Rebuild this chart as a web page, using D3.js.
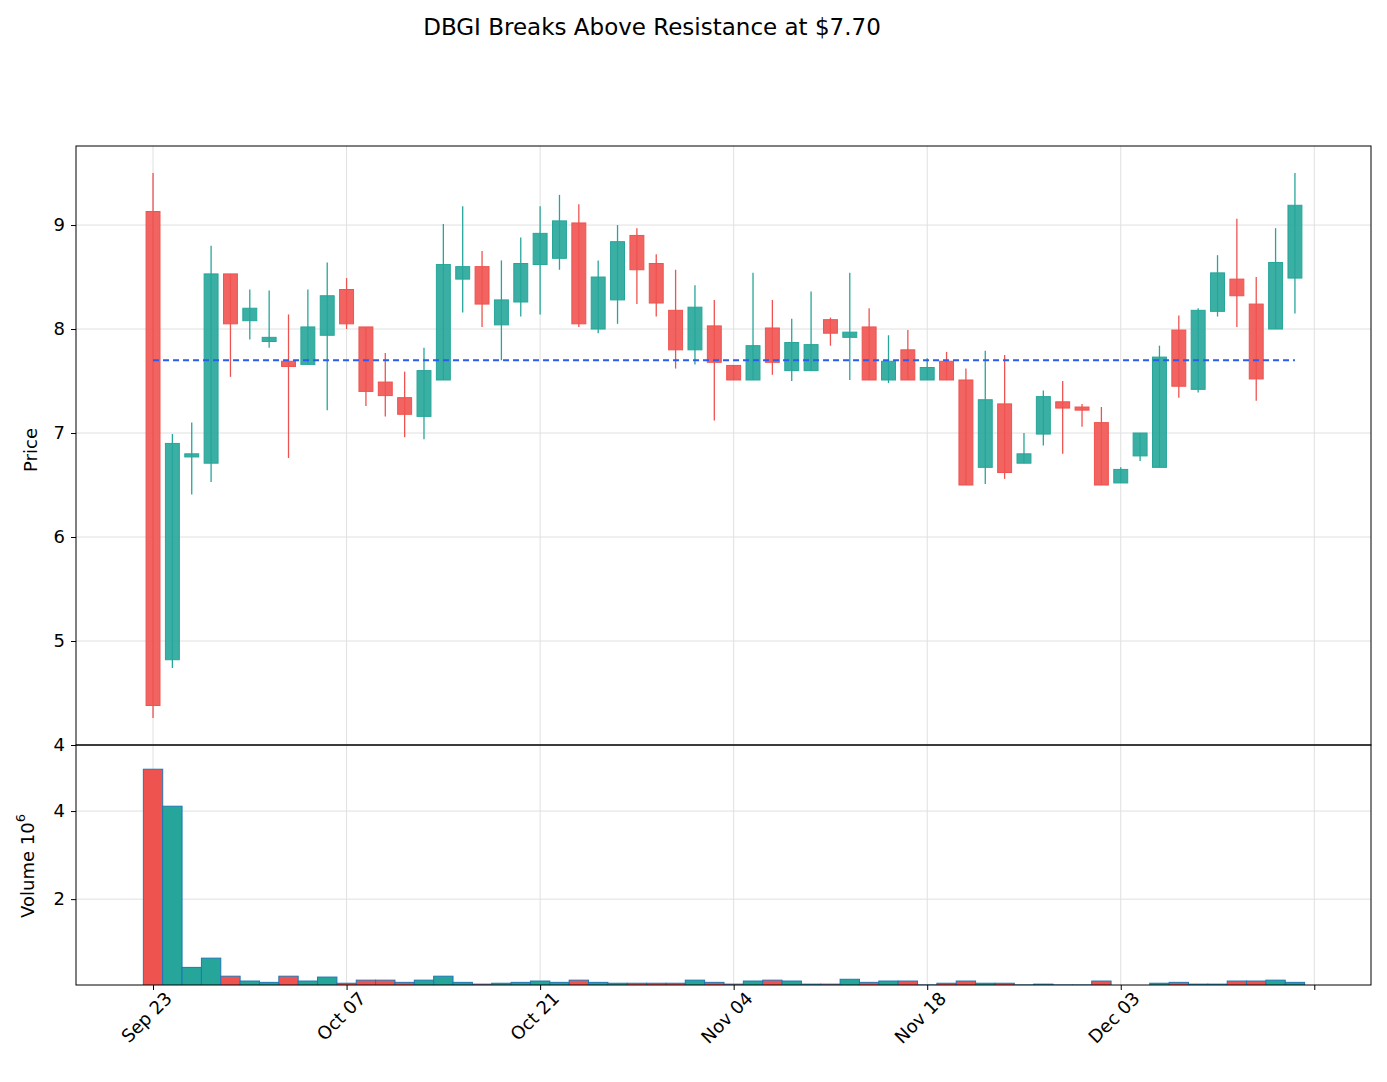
<!DOCTYPE html>
<html><head><meta charset="utf-8">
<script src="https://cdn.jsdelivr.net/npm/d3@7"></script>
<style>body{margin:0;background:#fff}svg{font-family:"DejaVu Sans",sans-serif}</style>
</head><body><svg id="c" width="1387" height="1082"></svg>
<script>
const opens =[9.13,4.82,6.77,6.71,8.53,8.08,7.88,7.69,7.66,7.94,8.38,8.02,7.49,7.34,7.16,7.51,8.48,8.60,8.04,8.26,8.62,8.68,9.02,8.00,8.28,8.90,8.63,8.18,7.80,8.03,7.65,7.51,8.01,7.60,7.60,8.09,7.92,8.02,7.51,7.80,7.51,7.69,7.51,6.67,7.28,6.71,6.99,7.30,7.25,7.10,6.52,6.78,6.67,7.99,7.42,8.17,8.48,8.24,8.00,8.49];
const closes=[4.38,6.90,6.80,8.53,8.05,8.20,7.92,7.64,8.02,8.32,8.05,7.40,7.36,7.18,7.60,8.62,8.60,8.24,8.28,8.63,8.92,9.04,8.05,8.50,8.84,8.57,8.25,7.80,8.21,7.68,7.51,7.84,7.68,7.87,7.85,7.96,7.97,7.51,7.69,7.51,7.63,7.51,6.50,7.32,6.62,6.80,7.35,7.24,7.22,6.50,6.65,7.00,7.73,7.45,8.18,8.54,8.32,7.52,8.64,9.19];
const highs =[9.50,6.99,7.10,8.80,8.53,8.38,8.37,8.14,8.38,8.64,8.49,8.02,7.77,7.59,7.82,9.01,9.18,8.75,8.66,8.88,9.18,9.29,9.20,8.66,9.00,8.97,8.72,8.57,8.42,8.28,7.65,8.54,8.28,8.10,8.36,8.11,8.54,8.20,7.94,7.99,7.72,7.78,7.62,7.79,7.75,7.00,7.41,7.50,7.28,7.25,6.67,7.00,7.84,8.13,8.20,8.71,9.06,8.50,8.97,9.50];
const lows  =[4.26,4.74,6.41,6.53,7.54,7.90,7.82,6.76,7.66,7.22,8.00,7.26,7.16,6.96,6.94,7.51,8.16,8.02,7.70,8.12,8.14,8.57,8.02,7.96,8.05,8.24,8.12,7.62,7.66,7.12,7.51,7.51,7.56,7.50,7.60,7.84,7.51,7.51,7.48,7.51,7.51,7.51,6.50,6.51,6.56,6.71,6.88,6.80,7.06,6.50,6.52,6.73,6.67,7.34,7.39,8.12,8.02,7.31,8.00,8.15];
const volumes=[4.95,4.11,0.45,0.66,0.25,0.14,0.11,0.25,0.14,0.23,0.09,0.16,0.16,0.11,0.16,0.25,0.11,0.07,0.09,0.11,0.14,0.11,0.16,0.11,0.09,0.09,0.09,0.09,0.16,0.11,0.07,0.14,0.16,0.14,0.07,0.07,0.18,0.11,0.14,0.14,0.05,0.09,0.14,0.09,0.09,0.05,0.07,0.05,0.05,0.14,0.03,0.03,0.09,0.11,0.07,0.07,0.14,0.14,0.16,0.11];
const tickIdx=[0,10,20,30,40,50,60];
const tickLabels=["Sep 23","Oct 07","Oct 21","Nov 04","Nov 18","Dec 03",""];
const resistance=7.70;
const title="DBGI Breaks Above Resistance at $7.70";

const svg=d3.select("#c");
const L=76,R=1371,PT=146,PB=745,VB=985;
const RED="#ef5350",GREEN="#26a69a";
const x=d3.scaleLinear().domain([-3.98,62.93]).range([L,R]);
const y=d3.scaleLinear().domain([4,9.76]).range([PB,PT]);
const yv=d3.scaleLinear().domain([0.05,5.5]).range([VB,PB]);
const idx=d3.range(opens.length);
const bw=x(0.72)-x(0), vw=x(1)-x(0);

svg.append("defs").append("clipPath").attr("id","vc").append("rect").attr("x",L).attr("y",PB).attr("width",R-L).attr("height",VB-PB);

const g=svg.append("g").attr("stroke","#e0e0e0").attr("stroke-width",1);
tickIdx.forEach(t=>{g.append("line").attr("x1",x(t)).attr("x2",x(t)).attr("y1",PT).attr("y2",VB);});
[4,5,6,7,8,9].forEach(v=>g.append("line").attr("x1",L).attr("x2",R).attr("y1",y(v)).attr("y2",y(v)));
[2,4].forEach(v=>g.append("line").attr("x1",L).attr("x2",R).attr("y1",yv(v)).attr("y2",yv(v)));

const col=i=>closes[i]>=opens[i]?GREEN:RED;
const c=svg.append("g");
c.selectAll("line.w").data(idx).join("line").attr("x1",i=>x(i)).attr("x2",i=>x(i))
 .attr("y1",i=>y(highs[i])).attr("y2",i=>y(lows[i])).attr("stroke",col).attr("stroke-width",1.3);
c.selectAll("rect").data(idx).join("rect").attr("x",i=>x(i)-bw/2).attr("width",bw)
 .attr("y",i=>y(Math.max(opens[i],closes[i]))).attr("height",i=>Math.max(1,Math.abs(y(opens[i])-y(closes[i]))))
 .attr("fill",col).attr("fill-opacity",0.9).attr("stroke",col).attr("stroke-width",1);

svg.append("line").attr("x1",x(0)).attr("x2",x(59)).attr("y1",y(resistance)).attr("y2",y(resistance))
 .attr("stroke","#2a5cf0").attr("stroke-width",2).attr("stroke-dasharray","6,4");

svg.append("g").attr("clip-path","url(#vc)").selectAll("rect").data(idx).join("rect")
 .attr("x",i=>x(i)-vw/2).attr("width",vw).attr("y",i=>yv(volumes[i])).attr("height",i=>VB+5-yv(volumes[i]))
 .attr("fill",col).attr("stroke","#1f77b4").attr("stroke-width",1);

svg.append("rect").attr("x",L).attr("y",PT).attr("width",R-L).attr("height",PB-PT).attr("fill","none").attr("stroke","#000");
svg.append("rect").attr("x",L).attr("y",PB).attr("width",R-L).attr("height",VB-PB).attr("fill","none").attr("stroke","#000");

const ay=svg.append("g").attr("transform",`translate(${L},0)`).call(d3.axisLeft(y).tickValues([4,5,6,7,8,9]).tickFormat(d3.format("d")).tickSize(5).tickPadding(6));
const av=svg.append("g").attr("transform",`translate(${L},0)`).call(d3.axisLeft(yv).tickValues([2,4]).tickFormat(d3.format("d")).tickSize(5).tickPadding(6));
const ax=svg.append("g").attr("transform",`translate(0,${VB})`).call(d3.axisBottom(x).tickValues(tickIdx).tickFormat((d,i)=>tickLabels[i]).tickSize(5));
[ay,av,ax].forEach(a=>{a.select(".domain").remove();a.attr("font-size",18).attr("font-family","DejaVu Sans");a.selectAll("text").attr("fill","#000");});
ax.selectAll("text").attr("text-anchor","end").attr("dx","0.2em").attr("dy","0.9em").attr("transform","rotate(-45)");

svg.append("text").attr("x",652).attr("y",35).attr("text-anchor","middle").attr("font-size",23).text(title);
svg.append("text").attr("transform","translate(37,450) rotate(-90)").attr("text-anchor","middle").attr("font-size",18).text("Price");
const vt=svg.append("text").attr("transform","translate(34,866) rotate(-90)").attr("text-anchor","middle").attr("font-size",18);
vt.append("tspan").text("Volume  10");
vt.append("tspan").attr("dy",-9).attr("font-size",13).text("6");
</script></body></html>
